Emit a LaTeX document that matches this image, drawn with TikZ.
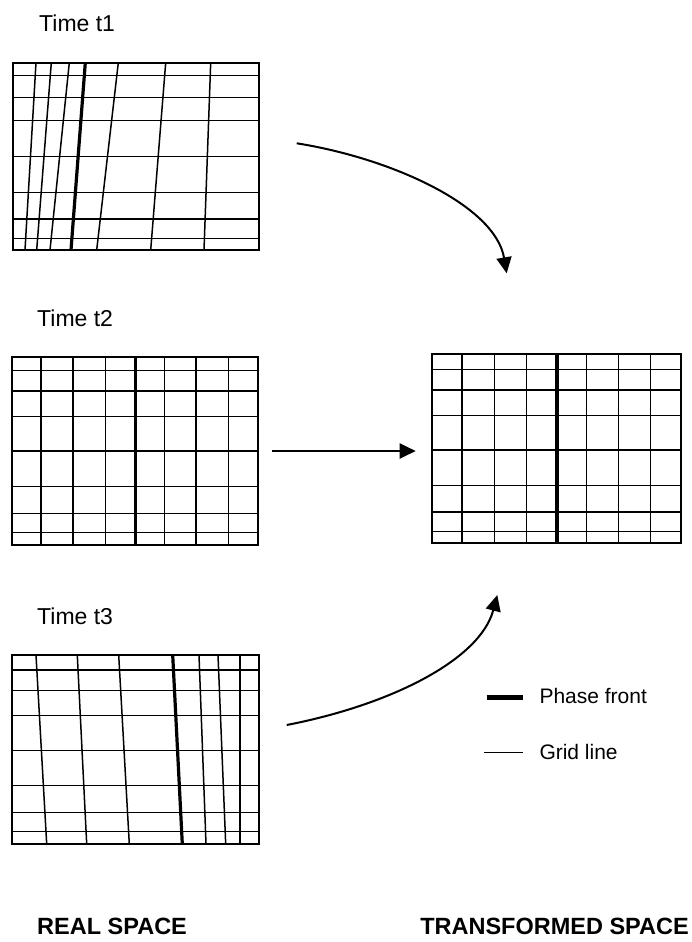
\documentclass[tikz,border=0pt]{standalone}
\usepackage{fontspec}
\setmainfont{Liberation Sans}
\usetikzlibrary{arrows.meta}
\begin{document}
\begin{tikzpicture}[x=1pt,y=-1pt,
  frame/.style={line width=2.2pt},
  gridline/.style={line width=1.5pt},
  phase/.style={line width=3.2pt},
  flow/.style={line width=2pt,-{Triangle[length=16pt,width=15pt]}},
  lbl/.style={inner sep=0pt,font=\fontsize{23}{27}\selectfont},
  hdr/.style={inner sep=0pt,font=\fontsize{23.5}{28}\selectfont\bfseries},
  leg/.style={inner sep=0pt,font=\fontsize{21}{25}\selectfont}]
\useasboundingbox (0,0) rectangle (692,942);

% ---------- Grid t1 ----------
\foreach \y in {75.3,97.3,120.7,156.7,192.7,219,238.3}
  \draw[gridline] (13.3,\y) -- (259.3,\y);
\foreach \t/\b in {36/25,51.3/36.7,69.3/50,118.3/96.7,165.7/150.7,210.7/204}
  \draw[gridline] (\t,62.7) -- (\b,250);
\draw[phase] (85.3,62.7) -- (71,250);
\draw[frame] (13.3,62.7) rectangle (259.3,250);

% ---------- Grid t2 ----------
\foreach \y in {370.7,391,416.7,451,486.7,513.3,532.3}
  \draw[gridline] (11.7,\y) -- (258.3,\y);
\foreach \x in {41,73,105.3,164.3,196,228.7}
  \draw[gridline] (\x,356.7) -- (\x,545);
\draw[phase] (135.7,356.7) -- (135.7,545);
\draw[frame] (11.7,356.7) rectangle (258.3,545);

% ---------- Grid t3 ----------
\foreach \y in {670,690.7,715.7,750.7,785.7,812.5,831.7}
  \draw[gridline] (11.7,\y) -- (258.7,\y);
\foreach \t/\b in {36/46.7,77.3/86.7,118.7/129.3,199/206,218/225.7,240/240}
  \draw[gridline] (\t,655) -- (\b,844);
\draw[phase] (172.7,655) -- (182.3,844);
\draw[frame] (11.7,655) rectangle (258.7,844);

% ---------- Transformed grid ----------
\foreach \y in {369.3,390,415.3,450,485.3,512,531.7}
  \draw[gridline] (432.3,\y) -- (681,\y);
\foreach \x in {462,494.3,526.7,586.7,618.3,650.7}
  \draw[gridline] (\x,354.3) -- (\x,543.3);
\draw[phase] (557,354.3) -- (557,543.3);
\draw[frame] (432.3,354.3) rectangle (681,543.3);

% ---------- Labels ----------
\node[lbl,anchor=base west] (lt1) at (39,31.7) {Time t1};
\node[lbl,anchor=base west] (lt2) at (37,326.7) {Time t2};
\node[lbl,anchor=base west] (lt3) at (37,624) {Time t3};
\node[hdr,anchor=base west] (real) at (37,934) {REAL SPACE};
\node[hdr,anchor=base east] (trans) at (689,934) {TRANSFORMED SPACE};

% ---------- Arrows ----------
\coordinate (a1s) at (296.7,143.3);
\coordinate (a1e) at (506.7,273.3);
\coordinate (a2s) at (271.7,451);
\coordinate (a2e) at (415.7,451);
\coordinate (a3s) at (286.7,725);
\coordinate (a3e) at (497.3,595);
\draw[flow] (a1s) .. controls (390,158) and (495,205) .. (a1e);
\draw[flow] (a2s) -- (a2e);
\draw[flow] (a3s) .. controls (390,705) and (480,660) .. (a3e);

% ---------- Legend ----------
\coordinate (lp1) at (486.7,697.3);
\coordinate (lp2) at (523.3,697.3);
\coordinate (lg1) at (484,752.3);
\coordinate (lg2) at (522.7,752.3);
\draw[line width=4.5pt] (lp1) -- (lp2);
\draw[line width=1.3pt] (lg1) -- (lg2);
\node[leg,anchor=base west] (lphase) at (539.3,703.3) {Phase front};
\node[leg,anchor=base west] (lgrid) at (539.3,759.3) {Grid line};
\end{tikzpicture}
\end{document}
